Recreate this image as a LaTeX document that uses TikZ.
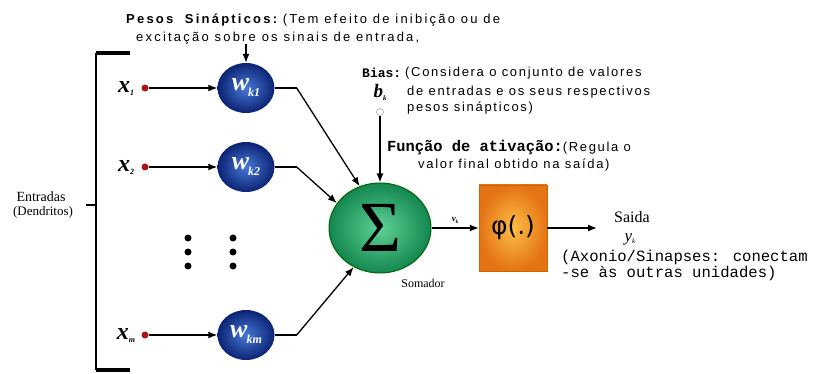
\documentclass[tikz,border=0pt]{standalone}
\usepackage{fontspec}
\usepackage{amsmath}
\setmainfont{Liberation Serif}
\newfontfamily\notafont[LetterSpace=17]{Liberation Sans}
\newfontfamily\biasfont[LetterSpace=13]{Liberation Sans}
\newfontfamily\codafont{Liberation Mono}
\newfontfamily\greekfont{DejaVu Sans}
\usetikzlibrary{shapes.geometric,arrows.meta}

\definecolor{pesoin}{RGB}{70,120,215}
\definecolor{pesoout}{RGB}{12,35,115}
\definecolor{somain}{RGB}{95,210,150}
\definecolor{somaout}{RGB}{20,135,80}
\definecolor{ativin}{RGB}{252,190,70}
\definecolor{ativout}{RGB}{228,115,20}
\definecolor{entradacor}{RGB}{170,20,20}

\newcommand{\wlab}[1]{{\fontsize{26}{26}\selectfont\bfseries\itshape w}\kern-1pt\raisebox{-6pt}{\fontsize{12}{12}\selectfont\bfseries\itshape #1}}
\newcommand{\xlab}[1]{{\fontsize{24}{24}\selectfont\bfseries\itshape x}\raisebox{-3pt}{\fontsize{8}{8}\selectfont\bfseries\itshape #1}}

\begin{document}
\begin{tikzpicture}[x=1pt, y=-1pt,
    peso/.style={ellipse, minimum width=57pt, minimum height=50pt, inner sep=0pt,
        inner color=pesoin, outer color=pesoout, text=white},
    soma/.style={ellipse, minimum width=102pt, minimum height=90pt, inner sep=0pt,
        draw=black!60!green, line width=1pt, inner color=somain, outer color=somaout},
    ativ/.style={rectangle, minimum width=68pt, minimum height=86pt, inner sep=0pt,
        draw=orange!80!black, inner color=ativin, outer color=ativout},
    entrada/.style={circle, fill=entradacor, minimum size=7pt, inner sep=0pt},
    seta/.style={-{Latex[length=9pt,width=7pt]}, line width=1.3pt},
    liga/.style={line width=1.3pt},
    nota/.style={anchor=west, inner sep=0pt, font=\biasfont\fontsize{13}{13}\selectfont},
    codigo/.style={anchor=west, inner sep=0pt, font=\codafont\fontsize{15.6}{15.6}\selectfont}
]
\useasboundingbox (0,0) rectangle (814,374);

% colchete das entradas
\draw[line width=4pt] (130,53) -- (96,53);
\draw[line width=4pt] (130,370) -- (96,370);
\draw[line width=2.5pt] (96,53) -- (96,370);
\draw[line width=2.5pt] (96,205) -- (86,205);
\node (entr) at (41,197) {\fontsize{14}{14}\selectfont Entradas};
\node (dend) at (43,212) {\fontsize{13}{13}\selectfont (Dendritos)};

% entradas e pesos
\node[entrada] (d1) at (145,88) {};
\node[entrada] (d2) at (145,167) {};
\node[entrada] (dm) at (145,335) {};
\node (x1) at (126,88) {\xlab{1}};
\node (x2) at (126,167) {\xlab{2}};
\node (xm) at (126,335) {\xlab{m}};

\node[peso] (w1) at (246,88) {\wlab{k1}};
\node[peso] (w2) at (246,167) {\wlab{k2}};
\node[peso] (wm) at (246,335) {\wlab{km}};

\draw[seta] (d1) -- (w1);
\draw[seta] (d2) -- (w2);
\draw[seta] (dm) -- (wm);

\foreach \col in {188,233}
    \foreach \lin in {238,252,266}
        \fill (\col,\lin) circle (3.5pt);

% somador
\node[soma] (soma) at (380,228) {\fontsize{72}{72}\selectfont Σ};
\node (somador) at (423,283) {\fontsize{12}{12}\selectfont Somador};

\draw[liga] (w1.east) -- ++(22,0) coordinate (c1);
\draw[seta] (c1) -- (soma.116);
\draw[liga] (w2.east) -- ++(22,0) coordinate (c2);
\draw[seta] (c2) -- (soma.150);
\draw[liga] (wm.east) -- ++(22,0) coordinate (cm);
\draw[seta] (cm) -- (soma.236);

% bias
\node[inner sep=0pt] (bk) at (380,92) {\fontsize{19}{19}\selectfont\bfseries\itshape b\raisebox{-3pt}{\fontsize{7}{7}\selectfont k}};
\node[circle, draw=gray, fill=white, minimum size=7pt, inner sep=0pt] (bc) at (380,112) {};
\draw[seta] (bc) -- (soma.north);

% funcao de ativacao
\node[ativ] (ativ) at (513,228) {\greekfont\fontsize{25}{25}\selectfont φ(.)};
\draw[seta] (soma) -- node[above=1pt] (vk) {\fontsize{9}{9}\selectfont\bfseries\itshape v\raisebox{-1.5pt}{\fontsize{5}{5}\selectfont k}} (ativ);

% saida
\coordinate (fim) at (597,228);
\draw[seta] (ativ) -- (fim);
\node (saida) at (632,217) {\fontsize{16}{16}\selectfont Saida};
\node (yk) at (630,239) {\fontsize{17}{17}\selectfont\itshape y\raisebox{-2pt}{\fontsize{7}{7}\selectfont k}};

% textos
\node[anchor=west, inner sep=0pt, font=\notafont\fontsize{13}{13}\selectfont] (pesos1) at (126,20) {{\bfseries Pesos\ \ Sinápticos:}\ (Tem efeito de inibição ou de};
\node[anchor=west, inner sep=0pt, font=\notafont\fontsize{13}{13}\selectfont] (pesos2) at (136,38) {excitação sobre os sinais de entrada,};
\draw[seta] (pesos2.south -| w1.north) -- (w1.north);

\node[anchor=west, inner sep=0pt] (bias) at (362,73) {\codafont\bfseries\fontsize{13}{13}\selectfont Bias:};
\node[nota] (bias1) at (405,73) {(Considera o conjunto de valores};
\node[nota] (bias2) at (407,92) {de entradas e os seus respectivos};
\node[nota] (bias3) at (407,108) {pesos sinápticos)};

\node[anchor=west, inner sep=0pt] (func1) at (387,148) {{\codafont\bfseries\fontsize{15.4}{15.4}\selectfont Função de ativação:}{\biasfont\fontsize{13}{13}\selectfont(Regula o}};
\node[nota] (func2) at (418,165) {valor final obtido na saída)};

\node[codigo] (axon1) at (561,257) {(Axonio/Sinapses: conectam};
\node[codigo] (axon2) at (561,273) {-se às outras unidades)};

\end{tikzpicture}
\end{document}
